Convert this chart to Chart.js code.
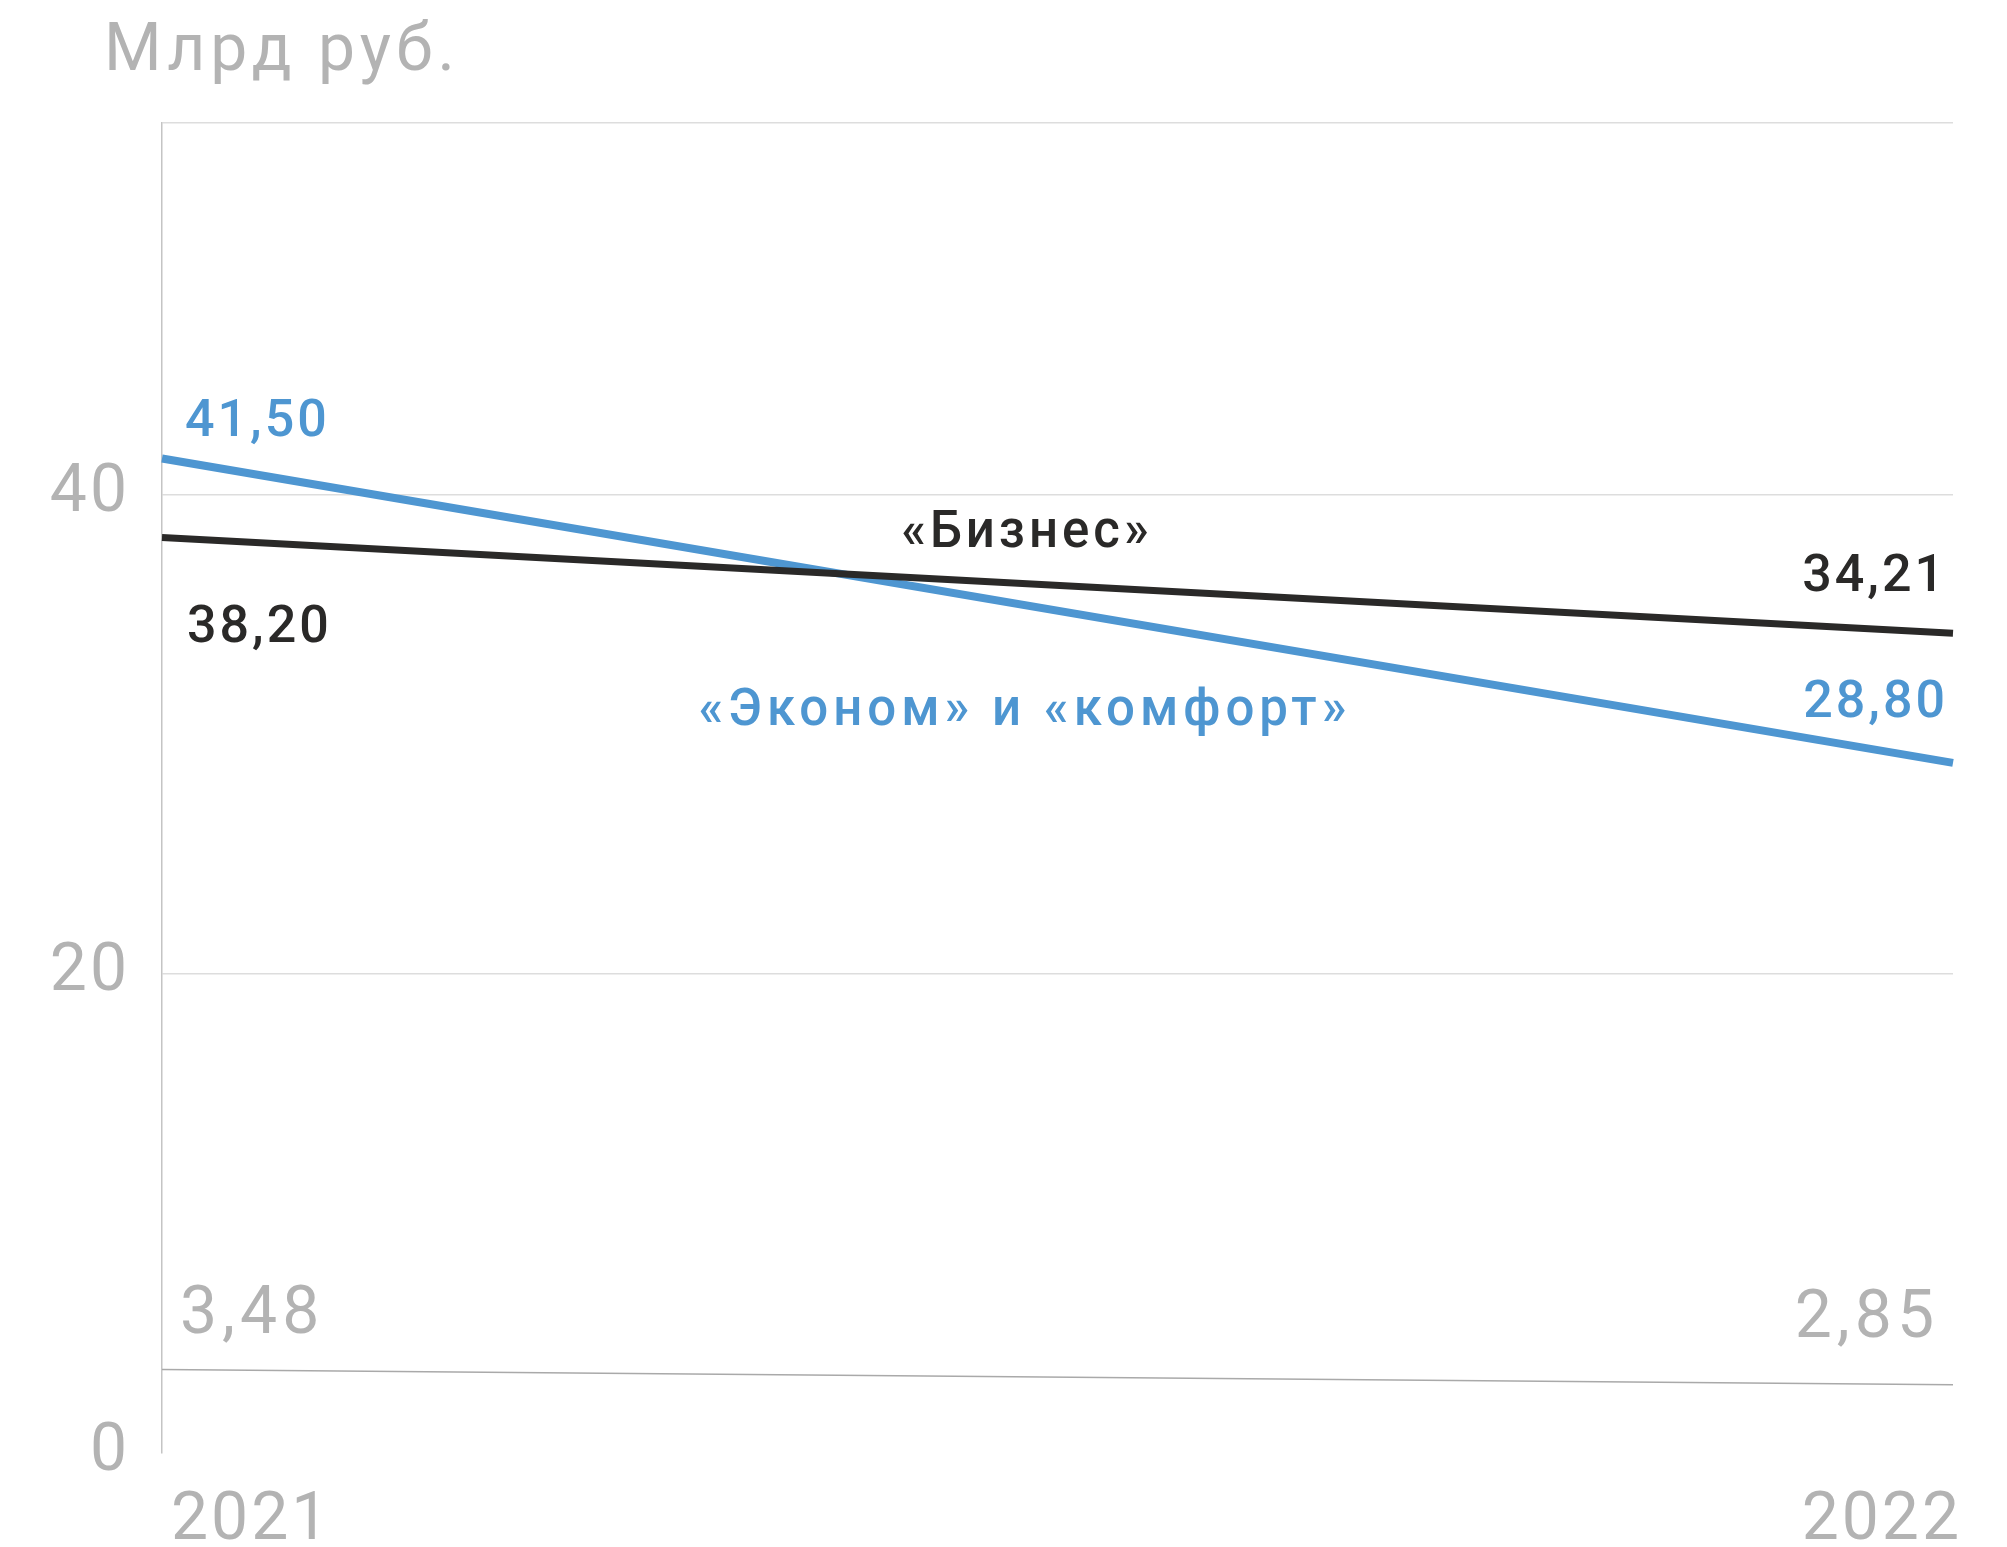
<!doctype html>
<meta charset="utf-8">
<title>Млрд руб.</title>
<style>
    html, body {
        margin: 0;
        padding: 0;
        background: #fff;
    }
    #wrap {
        position: relative;
        width: 2007px;
        height: 1547px;
    }
</style>
<body>
    <div id="wrap"><canvas id="chart"></canvas></div>
    <script src="https://cdn.jsdelivr.net/npm/chart.js@4.4.1/dist/chart.umd.min.js"></script>
    <script>
        const years = ["2021", "2022"];
        const business = [38.20, 34.21];
        const econom = [41.50, 28.80];
        const other = [3.48, 2.85];
        const yTicks = [0, 20, 40];
        const yMax = 55.5;
        const unitTitle = "Млрд руб.";
        const seriesNames = ["«Бизнес»", "«Эконом» и «комфорт»"];

        const FONT = "Roboto, 'Noto Sans', sans-serif";
        const GREY = "#b3b3b3";
        const BLUE = "#4e96d1";
        const BLACK = "#2a2928";

        const fmt = (v) => v.toFixed(2).replace(".", ",");

        // where each value label sits relative to its point
        const valueLabels = [
            { ds: 0, color: BLACK, font: "500 52px ", sp: "3px", at: [{ dx: 25, dy: 104, align: "left" }, { dx: -6, dy: -42, align: "right" }] },
            { ds: 1, color: BLUE, font: "500 52px ", sp: "3px", at: [{ dx: 23, dy: -22, align: "left" }, { dx: -5, dy: -46, align: "right" }] },
            { ds: 2, color: GREY, font: "66px ", sp: "5px", at: [{ dx: 18, dy: -37, align: "left" }, { dx: -14, dy: -48, align: "right" }] },
        ];

        const textPlugin = {
            id: "texts",
            beforeDraw(chart) {
                chart.ctx.letterSpacing = "3px";
            },
            afterDatasetsDraw(chart) {
                const ctx = chart.ctx;
                ctx.save();
                ctx.textBaseline = "alphabetic";

                ctx.fillStyle = GREY;
                ctx.font = "66px " + FONT;
                ctx.letterSpacing = "5px";
                ctx.textAlign = "left";
                ctx.fillText(unitTitle, 104, 70);

                valueLabels.forEach(l => {
                    const pts = chart.getDatasetMeta(l.ds).data;
                    const vals = chart.data.datasets[l.ds].data;
                    ctx.fillStyle = l.color;
                    ctx.font = l.font + FONT;
                    ctx.letterSpacing = l.sp;
                    l.at.forEach((o, i) => {
                        ctx.textAlign = o.align;
                        ctx.fillText(fmt(vals[i]), pts[i].x + o.dx, pts[i].y + o.dy);
                    });
                });

                ctx.textAlign = "center";
                ctx.font = "500 51px " + FONT;
                ctx.letterSpacing = "4px";
                ctx.fillStyle = BLACK;
                ctx.fillText(seriesNames[0], 1027, 547);
                ctx.letterSpacing = "5px";
                ctx.fillStyle = BLUE;
                ctx.fillText(seriesNames[1], 1025, 725);
                ctx.restore();
            }
        };

        new Chart(document.getElementById("chart"), {
            type: "line",
            data: {
                labels: years,
                datasets: [{
                    label: seriesNames[0],
                    data: business,
                    borderColor: BLACK,
                    borderWidth: 7,
                }, {
                    label: seriesNames[1],
                    data: econom,
                    borderColor: BLUE,
                    borderWidth: 8,
                }, {
                    label: "other",
                    data: other,
                    borderColor: "#a9a9a9",
                    borderWidth: 1.5,
                }],
            },
            options: {
                responsive: true,
                maintainAspectRatio: false,
                animation: false,
                devicePixelRatio: 1,
                layout: {
                    padding: { top: 123, right: 54, left: 0, bottom: 0 },
                },
                elements: {
                    point: { radius: 0 },
                    line: { tension: 0, borderCapStyle: "butt" },
                },
                plugins: {
                    legend: { display: false },
                    tooltip: { enabled: false },
                },
                scales: {
                    x: {
                        offset: false,
                        grid: { display: false, drawTicks: false },
                        border: { display: false },
                        ticks: {
                            color: GREY,
                            font: { family: FONT, size: 66 },
                            align: "inner",
                            labelOffset: 9,
                            padding: 30,
                            maxRotation: 0,
                        },
                        afterFit: (s) => { s.height = 94; },
                    },
                    y: {
                        min: 0,
                        max: yMax,
                        afterBuildTicks: (s) => {
                            s.ticks = [...yTicks, yMax].map(v => ({ value: v }));
                        },
                        grid: {
                            drawTicks: false,
                            lineWidth: 1.5,
                            color: (c) => c.tick && c.tick.value === 0 ? "rgba(0,0,0,0)" : "#dddddd",
                        },
                        border: { display: true, color: "#c4c4c4", width: 1.5 },
                        ticks: {
                            color: GREY,
                            font: { family: FONT, size: 66 },
                            padding: 32,
                            callback: (v) => yTicks.includes(v) ? String(v) : "",
                        },
                        afterFit: (s) => { s.width = 162; },
                    },
                },
            },
            plugins: [textPlugin],
        });
    </script>
</body>
